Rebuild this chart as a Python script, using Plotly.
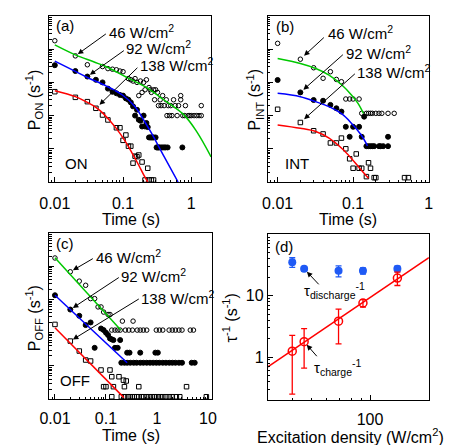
import math
import plotly.graph_objects as go

W, H = 451, 445
FONT = "Liberation Sans, Arial, sans-serif"

# ---------------- (a) ON-time probability densities (t in s, P in s^-1) -------------
on46 = [(0.01, 18000), (0.02, 6300), (0.03, 3400), (0.05, 3000), (0.06, 2600), (0.07, 2500),
        (0.08, 2400), (0.09, 2200), (0.10, 2100), (0.12, 1300), (0.13, 1200), (0.14, 1100),
        (0.15, 1300), (0.16, 1000), (0.17, 400), (0.18, 1100), (0.19, 500), (0.20, 1000),
        (0.21, 600), (0.22, 1200), (0.24, 700), (0.25, 600), (0.26, 500), (0.28, 600),
        (0.29, 300), (0.30, 600), (0.32, 500), (0.33, 200), (0.35, 300), (0.36, 200),
        (0.38, 400), (0.40, 200), (0.43, 300), (0.44, 100), (0.46, 200), (0.48, 100),
        (0.50, 200), (0.52, 100), (0.55, 300), (0.58, 200), (0.62, 100), (0.65, 200),
        (0.70, 400), (0.70, 300), (0.75, 100), (0.80, 100), (0.82, 200), (0.90, 100),
        (0.95, 100), (1.0, 100), (1.1, 100), (1.2, 100), (1.3, 100), (1.4, 100), (1.4, 200)]
on92 = [(0.01, 3300), (0.02, 2200), (0.03, 1500), (0.04, 1200), (0.05, 1000), (0.06, 650),
        (0.07, 520), (0.08, 470), (0.09, 420), (0.10, 400), (0.11, 330), (0.12, 300),
        (0.13, 250), (0.14, 190), (0.15, 100), (0.16, 150), (0.17, 75), (0.18, 70),
        (0.19, 47), (0.20, 100), (0.21, 47), (0.22, 60), (0.23, 45), (0.24, 22), (0.25, 22),
        (0.26, 22), (0.27, 22), (0.28, 22), (0.30, 22), (0.31, 11), (0.32, 11), (0.33, 11),
        (0.34, 11), (0.36, 11), (0.38, 11), (0.40, 11), (0.42, 11), (0.45, 11), (0.74, 11)]
on138 = [(0.01, 525), (0.02, 355), (0.03, 263), (0.04, 166), (0.05, 104), (0.06, 74),
         (0.08, 43), (0.09, 43), (0.10, 18), (0.11, 26), (0.12, 12), (0.13, 12), (0.14, 3.7),
         (0.15, 6), (0.16, 5.8), (0.17, 6.5), (0.19, 4), (0.21, 1.15), (0.23, 2.6),
         (0.24, 1.15), (0.26, 1.15), (0.28, 1.15)]
on46_fit = [(0.01, 13500), (0.02, 6760), (0.037, 4170), (0.057, 2950), (0.109, 1480),
            (0.21, 741), (0.40, 295), (0.78, 105), (1.2, 33), (1.95, 5.75)]
on92_fit = [(0.01, 4370), (0.02, 2140), (0.03, 1410), (0.057, 776), (0.098, 417),
            (0.15, 186), (0.21, 63), (0.26, 30), (0.40, 5.8), (0.64, 1.0)]
on138_fit = [(0.01, 560), (0.02, 372), (0.03, 251), (0.04, 178), (0.051, 117), (0.079, 42),
             (0.109, 16.2), (0.137, 7.2), (0.17, 3.2), (0.20, 1.66), (0.23, 1.0)]

# ---------------- (b) intermediate-state densities ----------------
int46 = [(0.01, 15000), (0.02, 5000), (0.03, 2760), (0.04, 1330), (0.05, 2100), (0.06, 1230),
         (0.07, 1050), (0.08, 316), (0.09, 316), (0.10, 316), (0.12, 316), (0.13, 117),
         (0.15, 117), (0.16, 117), (0.17, 117), (0.18, 117), (0.20, 117), (0.22, 117),
         (0.24, 117), (0.29, 117), (0.35, 117)]
int92 = [(0.01, 1180), (0.02, 500), (0.03, 295), (0.04, 280), (0.05, 210), (0.06, 166),
         (0.07, 132), (0.08, 46), (0.09, 23), (0.10, 46), (0.12, 46), (0.13, 23), (0.14, 93),
         (0.15, 12), (0.16, 12), (0.17, 12), (0.18, 12), (0.19, 12), (0.22, 12), (0.23, 12),
         (0.25, 12), (0.29, 23), (0.29, 12)]
int138 = [(0.01, 155), (0.02, 62), (0.03, 35), (0.04, 28), (0.05, 15), (0.06, 15), (0.07, 21),
          (0.08, 10), (0.09, 5), (0.10, 2.6), (0.11, 7), (0.12, 2.6), (0.13, 2.6),
          (0.15, 1.45), (0.16, 3.8), (0.17, 2.6), (0.19, 1.35), (0.20, 1.35), (0.48, 1.35),
          (0.54, 1.35)]
int46_fit = [(0.01, 5250), (0.02, 3720), (0.032, 2630), (0.048, 1660), (0.071, 832),
             (0.095, 417), (0.116, 234), (0.137, 117)]
int92_fit = [(0.01, 468), (0.02, 372), (0.032, 263), (0.048, 186), (0.071, 112),
             (0.095, 59), (0.128, 26), (0.155, 12.3)]
int138_fit = [(0.01, 52.5), (0.02, 41.7), (0.032, 33.1), (0.048, 20.9), (0.071, 10.2),
              (0.095, 5.13), (0.128, 2.29), (0.16, 1.29)]

# ---------------- (c) OFF-time densities ----------------
off46 = [(0.01, 18000), (0.02, 6900), (0.03, 3600), (0.04, 2700), (0.05, 1070), (0.06, 1070),
         (0.07, 600), (0.08, 600), (0.09, 420), (0.11, 355), (0.12, 355), (0.13, 120),
         (0.15, 120), (0.17, 120), (0.19, 120), (0.21, 224), (0.24, 120), (0.28, 120),
         (0.33, 120), (0.34, 224), (0.41, 120), (0.47, 120), (0.54, 120), (0.63, 120),
         (0.97, 120), (1.12, 120), (1.3, 120), (1.73, 120), (2.0, 120), (2.3, 120),
         (2.7, 120), (3.1, 120), (4.5, 120), (5.2, 120)]
off92 = [(0.01, 1350), (0.02, 500), (0.03, 324), (0.04, 170), (0.05, 204), (0.06, 35),
         (0.08, 134), (0.09, 120), (0.10, 100), (0.11, 85), (0.12, 67), (0.13, 63),
         (0.14, 60), (0.15, 35), (0.17, 35), (0.19, 60), (0.20, 12.4), (0.23, 12.4),
         (0.26, 25), (0.26, 12.4), (0.29, 25), (0.30, 12.4), (0.35, 12.4), (0.40, 12.4),
         (0.47, 25), (0.47, 12.4), (0.54, 12.4), (0.63, 12.4), (0.73, 12.4), (0.84, 12.4),
         (0.93, 25), (0.97, 12.4), (1.04, 25), (1.11, 12.4), (1.3, 12.4), (1.5, 12.4),
         (1.74, 12.4), (2.0, 12.4), (2.3, 12.4), (2.7, 12.4), (3.1, 12.4), (4.8, 12.4),
         (5.5, 12.4)]
off138 = [(0.01, 178), (0.02, 56), (0.03, 28), (0.04, 15), (0.05, 14), (0.08, 7.5),
          (0.09, 2.35), (0.10, 2.35), (0.12, 7.5), (0.13, 4.7), (0.13, 1.17), (0.14, 2.35),
          (0.18, 4.7), (0.20, 1.17), (0.22, 3.7), (0.23, 2.35), (0.23, 1.17), (0.25, 3.5),
          (0.27, 1.17), (0.30, 1.17), (0.33, 1.17), (0.36, 1.17), (0.40, 1.17), (0.44, 2.35),
          (0.44, 1.17), (0.50, 1.17), (0.55, 1.17), (0.62, 1.17), (0.70, 1.17), (0.80, 1.17),
          (0.90, 1.17), (1.0, 1.17), (1.15, 1.17), (1.3, 1.17), (1.5, 1.17), (1.75, 1.17),
          (2.0, 1.17), (2.4, 1.17), (2.8, 1.17), (3.8, 2.35), (9.3, 1.17)]
off46_fit = [(0.01, 18200), (0.195, 120)]
off92_fit = [(0.01, 1350), (0.26, 12.4)]
off138_fit = [(0.01, 141), (0.225, 1.1)]

# ---------------- (d) rates vs excitation density ----------------
density = [40, 46, 69, 92, 138]
discharge_rate = [35.2, 27.4, 25.4, 25.4, 27.4]
discharge_err = [6.3, 2.4, 5.2, 3.0, 2.8]
charge_rate = [1.25, 1.78, 3.84, 7.6, 19.4]
charge_err = [1.0, 1.12, 2.2, 1.05, 4.75]
charge_fit = [(30, 0.69), (200, 41.8)]

GREEN, BLUE, RED = "#00c800", "#0000ff", "#ff0000"
D_BLUE = "#1f5af5"


def cols(pairs):
    return [p[0] for p in pairs], [p[1] for p in pairs]


def pxy(x, y):
    """pixel position -> paper coordinates"""
    return x / W, 1 - y / H


fig = go.Figure()


def points(pairs, symbol, ax, size=4.5):
    x, y = cols(pairs)
    filled = not symbol.endswith("open")
    fig.add_trace(go.Scatter(
        x=x, y=y, mode="markers", xaxis=ax[0], yaxis=ax[1], cliponaxis=False,
        marker=dict(symbol=symbol, size=size + (0.5 if filled else 0), color="black",
                    line=dict(width=1, color="black")),
        showlegend=False, hoverinfo="skip"))


def curve(pairs, color, ax, shape="spline"):
    x, y = cols(pairs)
    fig.add_trace(go.Scatter(
        x=x, y=y, mode="lines", xaxis=ax[0], yaxis=ax[1],
        line=dict(color=color, width=1.5, shape=shape, smoothing=1.0),
        showlegend=False, hoverinfo="skip"))


A, B, C, D = ("x", "y"), ("x2", "y2"), ("x3", "y3"), ("x4", "y4")

for series, sym in ((on46, "circle-open"), (on92, "circle"), (on138, "square-open")):
    points(series, sym, A)
curve(on46_fit, GREEN, A)
curve(on92_fit, BLUE, A)
curve(on138_fit, RED, A)

for series, sym in ((int46, "circle-open"), (int92, "circle"), (int138, "square-open")):
    points(series, sym, B)
curve(int46_fit, GREEN, B)
curve(int92_fit, BLUE, B)
curve(int138_fit, RED, B)

for series, sym in ((off46, "circle-open"), (off92, "circle"), (off138, "square-open")):
    points(series, sym, C)
curve(off46_fit, GREEN, C, "linear")
curve(off92_fit, BLUE, C, "linear")
curve(off138_fit, RED, C, "linear")

curve(charge_fit, RED, D, "linear")
fig.add_trace(go.Scatter(
    x=density, y=discharge_rate, mode="markers", xaxis="x4", yaxis="y4", cliponaxis=False,
    marker=dict(symbol="circle", size=8, color=D_BLUE),
    error_y=dict(type="data", array=discharge_err, color=D_BLUE, thickness=1.3, width=3),
    showlegend=False, hoverinfo="skip"))
fig.add_trace(go.Scatter(
    x=density, y=charge_rate, mode="markers", xaxis="x4", yaxis="y4", cliponaxis=False,
    marker=dict(symbol="circle-open", size=8, color=RED, line=dict(width=1.5, color=RED)),
    error_y=dict(type="data", array=charge_err, color=RED, thickness=1.3, width=3),
    showlegend=False, hoverinfo="skip"))


def minor_vals(lo, hi):
    return [m * 10.0 ** e for e in range(lo, hi) for m in range(2, 10)]


base = dict(type="log", showgrid=False, zeroline=False, showline=True, linecolor="black",
            linewidth=1, mirror=True, ticks="inside", ticklen=5, tickwidth=1,
            tickcolor="black", tickfont=dict(family=FONT, size=16, color="black"),
            tickmode="array")


def minor(lo, hi, extra=None):
    vals = extra if extra is not None else minor_vals(lo, hi)
    return dict(tickmode="array", tickvals=vals, ticks="inside", ticklen=2.5,
                tickwidth=1, tickcolor="black", showgrid=False)


def dom_x(a, b):
    return [a / W, b / W]


def dom_y(top, bottom):
    return [1 - bottom / H, 1 - top / H]


ydec = [10.0 ** e for e in range(0, 6)]

fig.update_layout(
    width=W, height=H, margin=dict(l=0, r=0, t=0, b=0),
    paper_bgcolor="white", plot_bgcolor="white",
    font=dict(family=FONT, size=15, color="black"),
    xaxis=dict(base, domain=dom_x(40.7, 208), range=[-2.08, 0.29], anchor="y",
               tickvals=[0.01, 0.1, 1], ticktext=["0.01", "0.1", "1"], minor=minor(-3, 1),
               ticklabelstandoff=7),
    yaxis=dict(base, domain=dom_y(16, 182), range=[0, 5], anchor="x",
               tickvals=ydec, showticklabels=False, minor=minor(0, 5)),
    xaxis2=dict(base, domain=dom_x(266.7, 433), range=[-2.13, 0], anchor="y2",
                tickvals=[0.01, 0.1, 1], ticktext=["0.01", "0.1", "1"], minor=minor(-3, 1),
                ticklabelstandoff=7),
    yaxis2=dict(base, domain=dom_y(16, 182), range=[0, 5], anchor="x2",
                tickvals=ydec, showticklabels=False, minor=minor(0, 5)),
    xaxis3=dict(base, domain=dom_x(40.7, 209), range=[-2.11, 1.08], anchor="y3",
                tickvals=[0.01, 0.1, 1, 10], ticktext=["0.01", "0.1", "1", "10"],
                minor=minor(-3, 2), ticklabelstandoff=5),
    yaxis3=dict(base, domain=dom_y(233.3, 399), range=[0, 5], anchor="x3",
                tickvals=ydec, showticklabels=False, minor=minor(0, 5)),
    xaxis4=dict(base, domain=dom_x(266.7, 433.3), range=[math.log10(30), math.log10(200)],
                anchor="y4", tickvals=[100], ticktext=["100"],
                minor=minor(0, 0, [40, 50, 60, 70, 80, 90]), ticklabelstandoff=5),
    yaxis4=dict(base, domain=dom_y(234.3, 400), range=[math.log10(0.2), 2], anchor="x4",
                tickvals=[1, 10, 100], ticktext=["1", "10", ""], minor=minor(-1, 2)),
)

ann = []


def text(x, y, s, size=15, xanchor="left", angle=0):
    px_, py_ = pxy(x, y)
    ann.append(dict(x=px_, y=py_, xref="paper", yref="paper", text=s, showarrow=False,
                    xanchor=xanchor, yanchor="middle", textangle=angle,
                    font=dict(family=FONT, size=size, color="black")))


def arrow(ax_id, pt, dx, dy, standoff=3):
    xr, yr = ax_id
    ann.append(dict(x=math.log10(pt[0]), y=math.log10(pt[1]), xref=xr, yref=yr, text="",
                    showarrow=True, ax=dx, ay=dy, arrowhead=2, arrowsize=1.1,
                    arrowwidth=1, arrowcolor="black", standoff=standoff))


units = " W/cm<sup>2</sup>"
# panel (a)
text(45, 25, "(a)")
text(55, 163, "ON")
text(100, 31, "46" + units)
text(118, 48, "92" + units)
text(132, 64, "138" + units)
arrow(A, on46[1], 32, -23)
arrow(A, on92[2], 38, -27)
arrow(A, on138[3], 43, -42, 5)
# panel (b)
text(273, 27, "(b)")
text(282, 163, "INT")
text(327, 32, "46" + units)
text(345, 52, "92" + units)
text(357, 71, "138" + units)
arrow(B, int46[1], 25, -23, 5)
arrow(B, int92[1], 44, -39, 4)
arrow(B, int138[1], 56, -50, 5)
# panel (c)
text(45, 243, "(c)")
text(50, 380, "OFF")
text(87, 256, "46" + units)
text(113, 275, "92" + units)
text(133, 297, "138" + units)
arrow(C, off46[1], 24, -14)
arrow(C, off92[1], 50, -33)
arrow(C, off138[1], 70, -43)
# panel (d)
text(272, 246, "(d)")
text(302, 290, "\u03c4<sub>discharge</sub><sup>-1</sup>")
text(312, 367, "\u03c4<sub>charge</sub><sup>-1</sup>")
arrow(D, (density[1], discharge_rate[1]), 16, 17, 4)
arrow(D, (density[1], charge_rate[1]), 14, 16, 4)

# axis titles
text(125, 219, "Time (s)", 16, "center")
text(350, 219, "Time (s)", 16, "center")
text(125, 435, "Time (s)", 16, "center")
text(352, 436, "Excitation density (W/cm<sup>2</sup>)", 16, "center")
text(25, 100, "P<sub>ON</sub> (s<sup>-1</sup>)", 16, "center", -90)
text(253, 100, "P<sub>INT</sub> (s<sup>-1</sup>)", 16, "center", -90)
text(25, 318, "P<sub>OFF</sub> (s<sup>-1</sup>)", 16, "center", -90)
text(228, 318, "\u03c4<sup>-1</sup> (s<sup>-1</sup>)", 16, "center", -90)

fig.update_layout(annotations=ann)
fig.write_html("out.html")
